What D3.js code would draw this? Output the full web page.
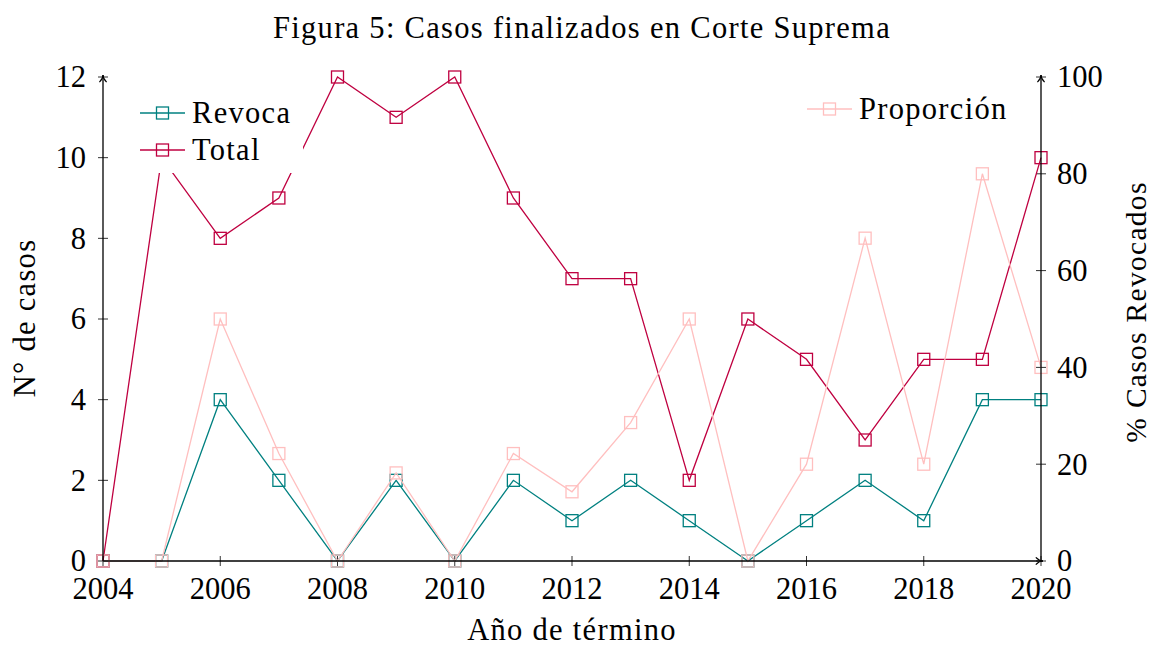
<!DOCTYPE html>
<html lang="es">
  <head>
    <meta charset="utf-8">
    <title>Casos finalizados en Corte Suprema</title>
    <script src="https://d3js.org/d3.v7.min.js"></script>
    <style>
      body { margin: 0; background: #fff; }
      text { font-family: "Liberation Serif", "DejaVu Serif", serif; fill: #000; }
      .lbl { letter-spacing: 1.3px; }
    </style>
  </head>
  <body>
    <div id="chart"></div>
    <script>
      // años y series
      const years = [2004, 2005, 2006, 2007, 2008, 2009, 2010, 2011, 2012,
                     2013, 2014, 2015, 2016, 2017, 2018, 2019, 2020];
      const revoca = [0, 0, 4, 2, 0, 2, 0, 2, 1, 2, 1, 0, 1, 2, 1, 4, 4];
      const total = [0, 10, 8, 9, 12, 11, 12, 9, 7, 7, 2, 6, 5, 3, 5, 5, 10];
      const proporcion = [0, 0, 50, 22.2, 0, 18.2, 0, 22.2, 14.3, 28.6, 50, 0, 20, 66.7, 20, 80, 40];

      const xTicks = [2004, 2006, 2008, 2010, 2012, 2014, 2016, 2018, 2020];
      const yTicks = [0, 2, 4, 6, 8, 10, 12];
      const y2Ticks = [0, 20, 40, 60, 80, 100];

      const W = 1153, H = 646;
      const pL = 103, pR = 1041, pT = 77, pB = 561;

      const svg = d3.select("#chart").append("svg")
          .attr("width", W).attr("height", H);

      const x = d3.scaleLinear().domain([2004, 2020]).range([pL, pR]);
      const y = d3.scaleLinear().domain([0, 12]).range([pB, pT]);
      const y2 = d3.scaleLinear().domain([0, 100]).range([pB, pT]);

      svg.append("defs").append("marker")
          .attr("id", "arrow")
          .attr("viewBox", "0 0 10 10")
          .attr("refX", 9).attr("refY", 5)
          .attr("markerWidth", 9).attr("markerHeight", 9)
          .attr("markerUnits", "userSpaceOnUse")
          .attr("orient", "auto")
          .append("path")
          .attr("d", "M1,1 Q5,5 9,5 Q5,5 1,9")
          .attr("fill", "none")
          .attr("stroke", "#000")
          .attr("stroke-width", 1.3);

      const fs = 30.5;

      // ticks y etiquetas
      const g = svg.append("g").attr("stroke", "#333").attr("stroke-width", 1);
      xTicks.forEach(t => {
        g.append("line").attr("x1", x(t)).attr("x2", x(t))
            .attr("y1", pB - 5).attr("y2", pB + 5);
      });
      yTicks.forEach(t => {
        g.append("line").attr("x1", pL - 5).attr("x2", pL + 5)
            .attr("y1", y(t)).attr("y2", y(t));
      });
      y2Ticks.forEach(t => {
        g.append("line").attr("x1", pR - 5).attr("x2", pR + 5)
            .attr("y1", y2(t)).attr("y2", y2(t));
      });

      svg.append("g").selectAll("text").data(xTicks).join("text")
          .attr("x", d => x(d)).attr("y", 599)
          .attr("text-anchor", "middle")
          .attr("font-size", fs)
          .text(d => d);

      svg.append("g").selectAll("text").data(yTicks).join("text")
          .attr("x", 86).attr("y", d => y(d))
          .attr("dy", "0.34em")
          .attr("text-anchor", "end")
          .attr("font-size", fs)
          .text(d => d);

      svg.append("g").selectAll("text").data(y2Ticks).join("text")
          .attr("x", 1057).attr("y", d => y2(d))
          .attr("dy", "0.34em")
          .attr("font-size", fs)
          .text(d => d);

      // series
      const line = (ys, sc) => d3.line().x((d, i) => x(years[i])).y(d => sc(d))(ys);

      function series(vals, sc, color) {
        const s = svg.append("g");
        s.append("path")
            .attr("d", line(vals, sc))
            .attr("fill", "none")
            .attr("stroke", color)
            .attr("stroke-width", 1.3);
        s.selectAll("rect").data(vals).join("rect")
            .attr("x", (d, i) => x(years[i]) - 6)
            .attr("y", d => sc(d) - 6)
            .attr("width", 12).attr("height", 12)
            .attr("fill", "none")
            .attr("stroke", color)
            .attr("stroke-width", 1.3);
      }

      const teal = "#008080", purple = "#bf0040", pink = "#ffbfbf";

      series(revoca, y, teal);
      series(total, y, purple);

      // leyenda 1 (fondo blanco)
      svg.append("rect").attr("x", 130).attr("y", 90)
          .attr("width", 173).attr("height", 83).attr("fill", "#fff");
      function legendItem(xx, yy, color, label) {
        svg.append("line").attr("x1", xx).attr("x2", xx + 45)
            .attr("y1", yy).attr("y2", yy)
            .attr("stroke", color).attr("stroke-width", 1.3);
        svg.append("rect").attr("x", xx + 22.5 - 6).attr("y", yy - 6)
            .attr("width", 12).attr("height", 12)
            .attr("fill", "none").attr("stroke", color).attr("stroke-width", 1.3);
        svg.append("text").attr("class", "lbl").attr("x", xx + 52).attr("y", yy)
            .attr("dy", "0.34em").attr("font-size", fs).text(label);
      }
      legendItem(140, 113, teal, "Revoca");
      legendItem(140, 150, purple, "Total");

      series(proporcion, y2, pink);

      svg.append("rect").attr("x", 797).attr("y", 88)
          .attr("width", 225).attr("height", 44).attr("fill", "#fff");
      legendItem(807, 109, pink, "Proporción");

      // ejes con flecha
      const ax = svg.append("g").attr("stroke", "#000").attr("stroke-width", 1.3);
      ax.append("line").attr("x1", pL).attr("x2", pL)
          .attr("y1", pB).attr("y2", pT - 2).attr("marker-end", "url(#arrow)");
      ax.append("line").attr("x1", pR).attr("x2", pR)
          .attr("y1", pB).attr("y2", pT - 2).attr("marker-end", "url(#arrow)");
      ax.append("line").attr("x1", pL).attr("x2", pR + 2)
          .attr("y1", pB).attr("y2", pB).attr("marker-end", "url(#arrow)");

      // títulos
      svg.append("text").attr("class", "lbl").attr("x", 582).attr("y", 38)
          .attr("text-anchor", "middle").attr("font-size", fs)
          .text("Figura 5: Casos finalizados en Corte Suprema");
      svg.append("text").attr("class", "lbl").attr("x", 572).attr("y", 640)
          .attr("text-anchor", "middle").attr("font-size", fs)
          .text("Año de término");
      svg.append("text").attr("class", "lbl")
          .attr("transform", "translate(35,318) rotate(-90)")
          .attr("text-anchor", "middle").attr("font-size", fs)
          .text("N° de casos");
      svg.append("text").attr("class", "lbl")
          .attr("transform", "translate(1146,312) rotate(-90)")
          .attr("text-anchor", "middle").attr("font-size", 29.5)
          .text("% Casos Revocados");
    </script>
  </body>
</html>
